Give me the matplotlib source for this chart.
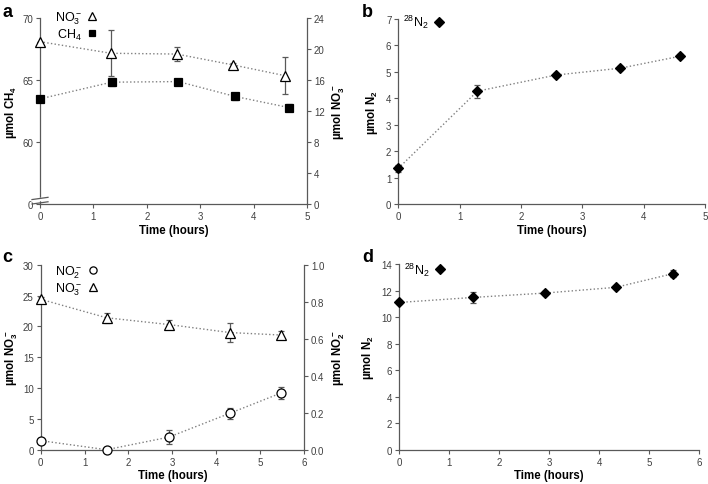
import matplotlib
matplotlib.use("Agg")
import matplotlib.pyplot as plt

plt.rcParams['font.family'] = ['Liberation Sans', 'DejaVu Sans']
plt.rcParams['mathtext.default'] = 'regular'

# panel a
a_ch4_t = [0, 1.34, 2.59, 3.65, 4.66]
a_ch4 = [63.5, 64.85, 64.9, 63.7, 62.8]
a_ch4_err = [0.25, 0.3, 0.2, 0.3, 0.25]
a_no3_t = [0, 1.33, 2.56, 3.61, 4.59]
a_no3 = [21.0, 19.5, 19.4, 18.0, 16.6]
a_no3_err = [0.0, 3.0, 0.9, 0.3, 2.4]

# panel b
b_t = [0, 1.29, 2.57, 3.62, 4.59]
b_n2 = [1.35, 4.27, 4.88, 5.14, 5.59]
b_err = [0.12, 0.25, 0.08, 0.08, 0.08]

# panel c
c_t = [0, 1.50, 2.92, 4.31, 5.47]
c_no3 = [24.4, 21.4, 20.3, 19.0, 18.6]
c_no3_err = [0.4, 0.8, 0.8, 1.5, 0.6]
c_no2 = [0.049, 0.0, 0.068, 0.197, 0.306]
c_no2_err = [0.01, 0.0, 0.037, 0.03, 0.033]

# panel d
d_t = [0, 1.48, 2.92, 4.33, 5.47]
d_n2 = [11.1, 11.48, 11.81, 12.24, 13.27]
d_err = [0.15, 0.4, 0.15, 0.12, 0.25]

AX_COL = '#595959'
TXT_COL = '#404040'
LINE_COL = '#808080'
ERR_COL = '#595959'


def style(ax, right=False):
    ax.spines['top'].set_visible(False)
    ax.spines['right'].set_visible(right)
    for s in ['left', 'bottom', 'right']:
        ax.spines[s].set_color(AX_COL)
        ax.spines[s].set_linewidth(0.9)
    ax.tick_params(direction='out', length=3, width=0.8, color=AX_COL,
                   labelsize=7, labelcolor=TXT_COL, pad=2)


def series(ax, t, y, err, marker, face, ms=6.5):
    ax.plot(t, y, ':', color=LINE_COL, lw=1.0, clip_on=False, zorder=2)
    ax.errorbar(t, y, yerr=err, fmt='none', ecolor=ERR_COL, elinewidth=0.9,
                capsize=2, capthick=0.9, clip_on=False, zorder=3)
    h, = ax.plot(t, y, linestyle='none', marker=marker, ms=ms,
                 mfc=face, mec='black', mew=0.9, clip_on=False, zorder=4)
    return h


fig = plt.figure(figsize=(7.08, 4.85), dpi=100)

lab_kw = dict(fontsize=8.3, fontweight='bold', color='black')
leg_kw = dict(frameon=False, markerfirst=False, handlelength=0.8,
              handletextpad=0.4, labelspacing=0.05, borderaxespad=0,
              fontsize=9, loc='upper left')

# ---- a
ax = fig.add_axes([0.0565, 0.5773, 0.3771, 0.3825])
ax2 = ax.twinx()
style(ax)
style(ax2, right=True)
ax2.spines['left'].set_visible(False)
ax2.spines['bottom'].set_visible(False)
h_ch4 = series(ax, a_ch4_t, a_ch4, a_ch4_err, 's', 'black', ms=6)
h_no3 = series(ax2, a_no3_t, a_no3, a_no3_err, '^', 'white', ms=7)
ax.set_xlim(0, 5)
ax.set_ylim(55, 70)
ax.set_yticks([55, 60, 65, 70])
ax.set_yticklabels(['0', '60', '65', '70'])
ax2.set_ylim(0, 24)
ax2.set_yticks(range(0, 25, 4))
ax.set_xlabel('Time (hours)', labelpad=2, **lab_kw)
ax.set_ylabel('µmol CH$_4$', labelpad=2, **lab_kw)
ax2.set_ylabel('µmol NO$_3^-$', labelpad=4, **lab_kw)
# axis break mark on the left spine
ax.fill([-0.03, 0.03, 0.03, -0.03], [0.012, 0.024, 0.036, 0.024],
        transform=ax.transAxes, color='white', clip_on=False, zorder=5)
for y0 in (0.012, 0.036):
    ax.plot([-0.03, 0.03], [y0 - 0.012, y0 + 0.0],
            transform=ax.transAxes, color=AX_COL, lw=0.9, clip_on=False,
            zorder=6)
ax2.legend([h_no3, h_ch4], ['NO$_3^-$', 'CH$_4$'], markerscale=0.8,
           bbox_to_anchor=(0.037, 1.075), **leg_kw)
fig.text(0.003, 0.965, 'a', fontsize=13, fontweight='bold')

# ---- b
ax = fig.add_axes([0.5626, 0.5773, 0.4332, 0.3814])
style(ax)
h = series(ax, b_t, b_n2, b_err, 'D', 'black', ms=5.5)
ax.set_xlim(0, 5)
ax.set_ylim(0, 7)
ax.set_yticks(range(0, 8))
ax.set_xlabel('Time (hours)', labelpad=2, **lab_kw)
ax.set_ylabel('µmol N$_2$', labelpad=4, **lab_kw)
ax.legend([h], ['$^{28}$N$_2$'], bbox_to_anchor=(0.0, 1.06), **leg_kw)
fig.text(0.511, 0.965, 'b', fontsize=13, fontweight='bold')

# ---- c
ax = fig.add_axes([0.0575, 0.0707, 0.3719, 0.3814])
ax2 = ax.twinx()
style(ax)
style(ax2, right=True)
ax2.spines['left'].set_visible(False)
ax2.spines['bottom'].set_visible(False)
h_no3 = series(ax, c_t, c_no3, c_no3_err, '^', 'white', ms=7)
h_no2 = series(ax2, c_t, c_no2, c_no2_err, 'o', 'white', ms=6.5)
ax.set_xlim(0, 6)
ax.set_ylim(0, 30)
ax.set_yticks(range(0, 31, 5))
ax2.set_ylim(0, 1.0)
ax2.set_yticks([0, 0.2, 0.4, 0.6, 0.8, 1.0])
ax2.set_yticklabels(['0.0', '0.2', '0.4', '0.6', '0.8', '1.0'])
ax.set_xlabel('Time (hours)', labelpad=2, **lab_kw)
ax.set_ylabel('µmol NO$_3^-$', labelpad=2, **lab_kw)
ax2.set_ylabel('µmol NO$_2^-$', labelpad=4, **lab_kw)
ax2.legend([h_no2, h_no3], ['NO$_2^-$', 'NO$_3^-$'], markerscale=0.8,
           bbox_to_anchor=(0.037, 1.035), **leg_kw)
fig.text(0.003, 0.46, 'c', fontsize=13, fontweight='bold')

# ---- d
ax = fig.add_axes([0.5636, 0.0707, 0.4242, 0.3829])
style(ax)
h = series(ax, d_t, d_n2, d_err, 'D', 'black', ms=5.5)
ax.set_xlim(0, 6)
ax.set_ylim(0, 14)
ax.set_yticks(range(0, 15, 2))
ax.set_xlabel('Time (hours)', labelpad=2, **lab_kw)
ax.set_ylabel('µmol N$_2$', labelpad=4, **lab_kw)
ax.legend([h], ['$^{28}$N$_2$'], bbox_to_anchor=(0.0, 1.045), **leg_kw)
fig.text(0.511, 0.46, 'd', fontsize=13, fontweight='bold')

fig.savefig('out.png', dpi=100)
